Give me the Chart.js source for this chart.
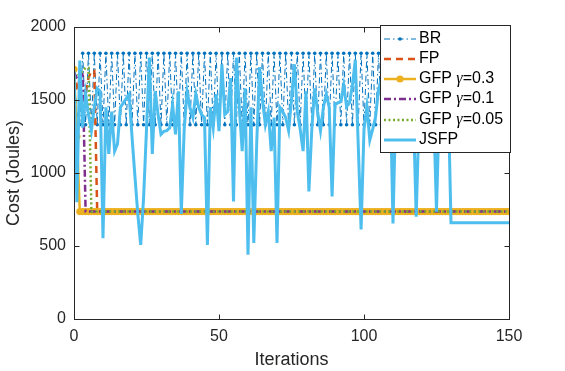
<!DOCTYPE html>
<html><head><meta charset="utf-8">
<script src="https://cdn.jsdelivr.net/npm/chart.js@4/dist/chart.umd.min.js"></script>
<style>html,body{margin:0;padding:0;background:#fff;}canvas{display:block;}</style>
</head><body>
<canvas id="c" width="565" height="371" style="width:565px;height:371px"></canvas>
<script>
const xTicks = [0, 50, 100, 150];
const yTicks = [0, 500, 1000, 1500, 2000];
const seriesNames = ['BR', 'FP', 'GFP γ=0.3', 'GFP γ=0.1', 'GFP γ=0.05', 'JSFP'];

const BR = [1700,1400,1330,
1820,1330,1820,1330,1820,1330,1820,1330,1820,1330,1820,1330,1820,1330,1820,1330,1820,1330,
1820,1330,1820,1330,1820,1330,1820,1330,1820,1330,1820,1330,1820,1330,1820,1330,1820,1330,
1820,1330,1820,1330,1820,1330,1820,1330,1820,1330,1820,1330,1820,1330,1820,1330,1820,1330,
1820,1330,1820,1330,1820,1330,1820,1330,1820,1330,1820,1330,1820,1330,1820,1330,1820,1330,
1820,1330,1820,1330,1820,1330,1820,1330,1820,1330,1820,1330,1820,1330,1820,1330,1820,1330,
1820,1330,1820,1330,1820,1330,1820,1330,1820,1330,1820,1330,1820,1330,1820,1330,1820,1330,
1820,1330,1820,1330,1820,1330,1820,1330,1820,1330,1820,1330,1820,1330,1820,1330,1820,1330,
1820,1330,1820,1330,1820,1330,1820,1330,1820,1330,1820,1330,1820,1330,1820,1330,1820,1330,
1820,1330,1820,1330];

const FP = [1700,1560,1650,1600,1560,1650,1700,1700,736,736,736,736,736,736,736,736,736,736,736,736,
736,736,736,736,736,736,736,736,736,736,736,736,736,736,736,736,736,736,736,736,
736,736,736,736,736,736,736,736,736,736,736,736,736,736,736,736,736,736,736,736,
736,736,736,736,736,736,736,736,736,736,736,736,736,736,736,736,736,736,736,736,
736,736,736,736,736,736,736,736,736,736,736,736,736,736,736,736,736,736,736,736,
736,736,736,736,736,736,736,736,736,736,736,736,736,736,736,736,736,736,736,736,
736,736,736,736,736,736,736,736,736,736,736,736,736,736,736,736,736,736,736,736,
736,736,736,736,736,736,736,736,736,736,736];

const GFP03 = [1710,1250,736,736,736,736,736,736,736,736,736,736,736,736,736,736,736,736,736,736,
736,736,736,736,736,736,736,736,736,736,736,736,736,736,736,736,736,736,736,736,
736,736,736,736,736,736,736,736,736,736,736,736,736,736,736,736,736,736,736,736,
736,736,736,736,736,736,736,736,736,736,736,736,736,736,736,736,736,736,736,736,
736,736,736,736,736,736,736,736,736,736,736,736,736,736,736,736,736,736,736,736,
736,736,736,736,736,736,736,736,736,736,736,736,736,736,736,736,736,736,736,736,
736,736,736,736,736,736,736,736,736,736,736,736,736,736,736,736,736,736,736,736,
736,736,736,736,736,736,736,736,736,736,736];

const GFP01 = [1690,1650,1620,1690,736,736,736,736,736,736,736,736,736,736,736,736,736,736,736,736,
736,736,736,736,736,736,736,736,736,736,736,736,736,736,736,736,736,736,736,736,
736,736,736,736,736,736,736,736,736,736,736,736,736,736,736,736,736,736,736,736,
736,736,736,736,736,736,736,736,736,736,736,736,736,736,736,736,736,736,736,736,
736,736,736,736,736,736,736,736,736,736,736,736,736,736,736,736,736,736,736,736,
736,736,736,736,736,736,736,736,736,736,736,736,736,736,736,736,736,736,736,736,
736,736,736,736,736,736,736,736,736,736,736,736,736,736,736,736,736,736,736,736,
736,736,736,736,736,736,736,736,736,736,736];

const GFP005 = [1650,1660,1680,1700,1720,1720,736,736,736,736,736,736,736,736,736,736,736,736,736,736,
736,736,736,736,736,736,736,736,736,736,736,736,736,736,736,736,736,736,736,736,
736,736,736,736,736,736,736,736,736,736,736,736,736,736,736,736,736,736,736,736,
736,736,736,736,736,736,736,736,736,736,736,736,736,736,736,736,736,736,736,736,
736,736,736,736,736,736,736,736,736,736,736,736,736,736,736,736,736,736,736,736,
736,736,736,736,736,736,736,736,736,736,736,736,736,736,736,736,736,736,736,736,
736,736,736,736,736,736,736,736,736,736,736,736,736,736,736,736,736,736,736,736,
736,736,736,736,736,736,736,736,736,736,736];

const JSFP = [1700,800,1770,1310,1540,1400,1290,1450,1580,1560,
553,1450,1130,1420,1150,1200,1450,1480,1510,1540,
1250,980,720,507,830,1300,1790,1130,1560,1400,
1265,1285,1290,1310,1470,1265,1560,720,1300,1560,
1450,1380,1540,1450,1400,1380,507,1450,1310,1540,
1287,1745,1400,1420,1650,805,1790,1450,1150,1580,
440,1450,520,1200,1725,1500,1330,1420,1150,1380,
520,1450,1420,1380,1290,1500,1745,1420,1300,1150,
1560,874,1300,1580,1420,1290,1450,1540,1450,840,
1470,1480,1490,1600,1455,1480,1600,1775,1200,614,
1300,1455,1225,1300,1385,1570,1650,1480,1350,1600,
655,1500,1700,1420,1380,1550,1750,1450,700,1400,
1600,1350,1500,1700,1450,735,1500,1650,1400,1550,
660,660,660,660,660,660,660,660,660,660,
660,660,660,660,660,660,660,660,660,660,660];

const FONT = "'Liberation Sans', Arial, Helvetica, sans-serif";
const TXT = '#262626';
const pts = arr => arr.map((v, i) => ({x: i, y: v}));

const styles = [
  {color:'#0072BD', width:1, dash:[6,3,1.5,3], marker:'dot'},
  {color:'#D95319', width:2.5, dash:[7,5], marker:null},
  {color:'#EDB120', width:2.5, dash:[], marker:'circle'},
  {color:'#7E2F8E', width:2.5, dash:[7,3,2,3], marker:null},
  {color:'#77AC30', width:2.5, dash:[2,2.5], marker:null},
  {color:'#4DBEEE', width:3, dash:[], marker:null}
];
const seriesData = [BR, FP, GFP03, GFP01, GFP005, JSFP];

const datasets = seriesData.map((arr, k) => {
  const s = styles[k];
  return {
    label: seriesNames[k],
    data: pts(arr),
    borderColor: s.color,
    backgroundColor: s.color,
    borderWidth: s.width,
    borderDash: s.dash,
    pointRadius: s.marker === 'dot' ? 1.8 : (s.marker === 'circle' ? 3.6 : 0),
    pointBackgroundColor: s.color,
    pointBorderColor: s.color,
    pointBorderWidth: 0,
    pointHoverRadius: 0,
    tension: 0,
    fill: false,
    order: 6 - k
  };
});

const framePlugin = {
  id: 'frame',
  afterDraw(chart) {
    const {ctx, chartArea: a, scales: {x, y}} = chart;
    ctx.save();
    ctx.strokeStyle = TXT;
    ctx.lineWidth = 1;
    ctx.setLineDash([]);
    const L = Math.round(a.left) + 0.5, R = Math.round(a.right) + 0.5;
    const T = Math.round(a.top) + 0.5, B = Math.round(a.bottom) + 0.5;
    ctx.strokeRect(L, T, R - L, B - T);
    const tl = 5;
    ctx.beginPath();
    xTicks.forEach(v => {
      const px = Math.round(x.getPixelForValue(v)) + 0.5;
      ctx.moveTo(px, B); ctx.lineTo(px, B - tl);
      ctx.moveTo(px, T); ctx.lineTo(px, T + tl);
    });
    yTicks.forEach(v => {
      const py = Math.round(y.getPixelForValue(v)) + 0.5;
      ctx.moveTo(L, py); ctx.lineTo(L + tl, py);
      ctx.moveTo(R, py); ctx.lineTo(R - tl, py);
    });
    ctx.stroke();

    // legend
    const lx = 380.5, ly = 25.5, lw = 130, lh = 127;
    ctx.fillStyle = '#fff';
    ctx.fillRect(lx, ly, lw, lh);
    ctx.strokeStyle = TXT;
    ctx.strokeRect(lx, ly, lw, lh);
    seriesNames.forEach((name, k) => {
      const s = styles[k];
      const cy = Math.round(ly + 13 + k * 20.3);
      ctx.save();
      ctx.strokeStyle = s.color;
      ctx.lineWidth = s.width;
      ctx.setLineDash(s.dash);
      ctx.beginPath();
      ctx.moveTo(384, cy); ctx.lineTo(416, cy);
      ctx.stroke();
      ctx.setLineDash([]);
      if (s.marker) {
        ctx.fillStyle = s.color;
        ctx.beginPath();
        ctx.arc(400, cy, s.marker === 'dot' ? 1.8 : 3.6, 0, Math.PI * 2);
        ctx.fill();
      }
      ctx.restore();
      ctx.fillStyle = '#000';
      ctx.textBaseline = 'middle';
      ctx.textAlign = 'left';
      let tx = 419;
      const parts = name.split('γ');
      ctx.font = '16px ' + FONT;
      ctx.fillText(parts[0], tx, cy);
      tx += ctx.measureText(parts[0]).width;
      if (parts.length > 1) {
        ctx.font = "italic 16px 'Liberation Serif', 'Times New Roman', serif";
        ctx.fillText('γ', tx, cy);
        tx += ctx.measureText('γ').width;
        ctx.font = '16px ' + FONT;
        ctx.fillText(parts[1], tx, cy);
      }
    });
    ctx.restore();
  }
};

new Chart(document.getElementById('c'), {
  type: 'line',
  data: {datasets},
  options: {
    responsive: false,
    animation: false,
    devicePixelRatio: 1,
    layout: {padding: {top: 27, right: 56, left: 0, bottom: 0}},
    plugins: {legend: {display: false}, tooltip: {enabled: false}},
    events: [],
    scales: {
      x: {
        type: 'linear', min: 0, max: 150,
        afterBuildTicks: s => { s.ticks = xTicks.map(v => ({value: v})); },
        afterFit: s => { s.height = 52; },
        grid: {display: false, drawTicks: false},
        border: {display: false},
        ticks: {font: {family: FONT, size: 16}, color: TXT, padding: 8, maxRotation: 0, callback: v => String(v)},
        title: {display: true, text: 'Iterations', font: {family: FONT, size: 18}, color: TXT, padding: {top: 0, bottom: 0}}
      },
      y: {
        type: 'linear', min: 0, max: 2000,
        afterBuildTicks: s => { s.ticks = yTicks.map(v => ({value: v})); },
        afterFit: s => { s.width = 74; },
        grid: {display: false, drawTicks: false},
        border: {display: false},
        ticks: {font: {family: FONT, size: 16}, color: TXT, padding: 8, callback: v => String(v)},
        title: {display: true, text: 'Cost (Joules)', font: {family: FONT, size: 18}, color: TXT, padding: {top: 3, bottom: 0}}
      }
    }
  },
  plugins: [framePlugin]
});
</script>
</body></html>
